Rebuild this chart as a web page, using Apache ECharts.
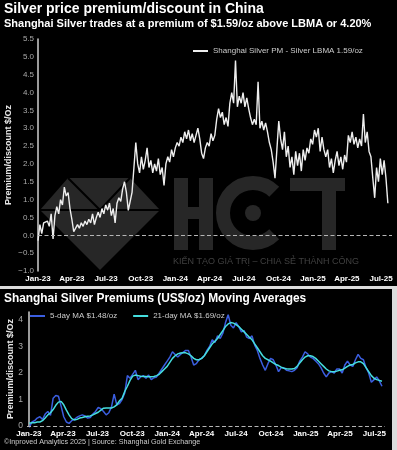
<!DOCTYPE html>
<html>
<head>
<meta charset="utf-8">
<script src="https://cdn.jsdelivr.net/npm/echarts@6/dist/echarts.min.js"></script>
<style>
  html, body { margin: 0; padding: 0; background: #dcdcdc; }
  #top { position: absolute; left: 0; top: 0; width: 397px; height: 286px; background: #000; }
  #bottom { position: absolute; left: 0; top: 289px; width: 392px; height: 161px; background: #000; }
</style>
</head>
<body>
<div id="top"></div>
<div id="bottom"></div>
<script>
// quarter labels on both x axes
const quarterTicks = ['2023-01-01', '2023-04-01', '2023-07-01', '2023-10-01', '2024-01-01', '2024-04-01',
  '2024-07-01', '2024-10-01', '2025-01-01', '2025-04-01', '2025-07-01'];
const MONTHS = ['Jan', 'Feb', 'Mar', 'Apr', 'May', 'Jun', 'Jul', 'Aug', 'Sep', 'Oct', 'Nov', 'Dec'];

// Shanghai PM - LBMA premium, one reading every 5 days from 2023-01-01
const premiumStart = '2023-01-01';
const premiumStepDays = 5;
const premiumValues = [
  -0.15, 0.3, 0.05, 0.35, 0.3, 0.4, 0.25, 0.6, -0.1, 0.55,
  0.8, 0.6, 1.0, 0.85, 1.35, 1.1, 1.2, 0.75, 0.45, 0.1,
  0.05, 0.3, 0.2, 0.35, 0.25, 0.4, 0.3, 0.45, 0.35, 0.6,
  0.3, 0.5, 0.65, 0.5, 0.75, 0.6, 0.85, 0.7, 0.9, 0.55,
  0.75, 0.35, 0.9, 1.05, 0.95, 1.3, 1.5, 1.2, 0.7, 0.65,
  1.2, 1.9, 2.6, 2.0, 1.75, 2.2, 1.85, 2.1, 2.45, 1.9,
  2.1, 1.75, 2.0, 1.8, 2.15, 1.7, 1.9, 1.4, 2.0, 2.2,
  2.05, 2.4, 2.2, 2.45, 2.6, 2.5, 2.75, 2.6, 2.9, 2.7,
  2.95, 2.65, 2.85, 2.6, 2.8, 3.0, 2.7, 2.3, 2.15, 2.45,
  2.6, 2.5, 2.85, 2.65, 2.8, 3.25, 3.55, 3.3, 3.45, 3.1,
  3.3, 3.05, 3.7, 4.0, 3.7, 4.9, 3.6, 3.9, 3.7, 4.0,
  3.6, 3.85, 3.55, 3.3, 3.1, 3.25, 3.1, 4.3, 3.0, 3.2,
  2.95, 3.15, 2.9, 2.6, 2.4, 2.05, 1.6, 2.4, 3.2, 2.7,
  2.4, 2.9, 2.2, 2.5, 1.9, 2.2, 1.7, 2.35, 1.95, 2.3,
  1.8, 2.4, 2.1, 2.45, 2.3, 2.7, 2.55, 2.95, 2.75, 3.0,
  2.35, 2.75, 2.4, 2.2, 2.4, 1.9, 2.15, 1.75, 2.1, 2.35,
  1.95, 2.2, 1.85, 2.25, 2.05, 2.8, 2.6, 2.9, 2.55, 2.75,
  2.45, 2.7, 2.5, 3.4, 2.6, 2.9, 2.35, 2.2, 1.6, 1.05,
  1.9, 1.5, 2.15, 1.7, 2.1, 1.6, 0.9
];

// moving averages, one reading per week from 2023-01-02
const maStart = '2023-01-02';
const maStepDays = 7;
const ma5Values = [
  -0.05, 0.15, 0.2, 0.3, 0.35, 0.25, 0.45, 0.55, 0.4, 1.05,
  1.15, 1.12, 0.75, 0.35, 0.15, 0.1, 0.2, 0.25, 0.33, 0.38,
  0.42, 0.38, 0.3, 0.32, 0.45, 0.55, 0.7, 0.65, 0.55, 0.42,
  0.5, 0.72, 1.2, 0.8, 0.85, 1.0, 1.25, 1.9, 1.8, 1.95,
  2.1, 1.75, 1.85, 1.9, 1.8, 1.92, 1.75, 1.82, 1.85, 2.0,
  2.15, 2.3, 2.45, 2.6, 2.8, 2.7, 2.6, 2.7, 2.78, 2.85,
  2.85, 2.6, 2.3, 2.35, 2.5, 2.55, 2.65, 2.85, 3.0, 3.25,
  3.15, 3.4, 3.3, 3.5, 3.9, 4.2, 3.8, 3.7, 3.9, 3.75,
  3.55, 3.6, 3.35, 3.3, 3.4, 3.05, 2.85, 2.55, 2.3, 2.1,
  2.35, 2.55, 2.5, 2.3, 2.05, 2.2, 2.2, 2.1, 2.08, 2.05,
  2.1, 2.2, 2.45, 2.6, 2.8, 2.72, 2.6, 2.55, 2.45, 2.35,
  2.2, 2.0, 1.85, 2.0, 2.05, 2.0, 2.15, 2.15, 2.0, 2.3,
  2.45, 2.3, 2.25, 2.5, 2.7, 2.55, 2.5, 2.2, 2.0, 1.65,
  1.75, 1.85, 1.7, 1.5
];
const ma21Values = [
  0.1, 0.12, 0.12, 0.15, 0.15, 0.2, 0.3, 0.42, 0.5, 0.62,
  0.78, 0.9, 0.93, 0.8, 0.6, 0.42, 0.28, 0.23, 0.25, 0.3,
  0.32, 0.35, 0.37, 0.38, 0.42, 0.47, 0.52, 0.6, 0.67, 0.68,
  0.68, 0.68, 0.72, 0.8, 0.95, 1.05, 1.3, 1.5, 1.72, 1.88,
  1.92, 1.9, 1.88, 1.87, 1.87, 1.86, 1.86, 1.87, 1.9, 1.95,
  2.05, 2.15, 2.25, 2.4, 2.55, 2.65, 2.72, 2.75, 2.76, 2.76,
  2.72, 2.65, 2.55, 2.5, 2.5, 2.55, 2.65, 2.8, 2.95, 3.1,
  3.2, 3.3, 3.45, 3.6, 3.75, 3.85, 3.9, 3.88, 3.82, 3.75,
  3.65, 3.55, 3.45, 3.35, 3.25, 3.1, 2.95, 2.8, 2.65, 2.55,
  2.5, 2.45, 2.38, 2.32, 2.28, 2.22, 2.18, 2.16, 2.15, 2.15,
  2.17, 2.25, 2.38, 2.5, 2.6, 2.65, 2.65, 2.62, 2.55, 2.45,
  2.35, 2.25, 2.15, 2.08, 2.05, 2.05, 2.07, 2.1, 2.12, 2.18,
  2.25, 2.3, 2.32, 2.38, 2.42, 2.42, 2.35, 2.2, 2.05, 1.9,
  1.8, 1.75, 1.72, 1.69
];

const FONT = '"Liberation Sans", Arial, sans-serif';
const DAY = 86400000;
const AXIS_START = '2023-01-01';

function utc(s) {
  const [y, m, d] = s.split('-').map(Number);
  return Date.UTC(y, m - 1, d);
}

// x positions are day numbers counted from 2023-01-01
function dayNo(s) {
  return Math.round((utc(s) - utc(AXIS_START)) / DAY);
}

function toSeries(start, step, values) {
  const d0 = dayNo(start);
  return values.map((v, i) => [d0 + i * step, v]);
}

function quarterLabel(val) {
  const d = new Date(utc(AXIS_START) + val * DAY);
  return MONTHS[d.getUTCMonth()] + '-' + String(d.getUTCFullYear()).slice(2);
}

const quarterDays = quarterTicks.map(dayNo);

function dayAxis(min, max, labelMargin) {
  return {
    type: 'value',
    min: min,
    max: max,
    axisLine: { show: false, onZero: false },
    axisTick: { show: false },
    splitLine: { show: false },
    axisLabel: {
      customValues: quarterDays,
      formatter: quarterLabel,
      color: '#fff',
      fontSize: 8,
      fontWeight: 'bold',
      fontFamily: FONT,
      margin: labelMargin,
      hideOverlap: false,
      showMinLabel: true,
      showMaxLabel: true
    }
  };
}

const zeroLine = {
  symbol: 'none',
  silent: true,
  label: { show: false },
  lineStyle: { color: '#b5b5b5', type: [4, 2.5], width: 1.2 },
  data: [{ yAxis: 0 }]
};

// faint HCT watermark behind the top chart
const WM = '#272727';
const watermark = [
  { type: 'polygon', z: 1, silent: true, shape: { points: [[68, 178], [130, 178], [160, 210], [100, 270], [40, 210]] }, style: { fill: WM } },
  { type: 'polyline', z: 1, silent: true, shape: { points: [[40, 210], [160, 210]] }, style: { stroke: '#000', lineWidth: 2 } },
  { type: 'polyline', z: 1, silent: true, shape: { points: [[68, 178], [100, 210], [130, 178]] }, style: { stroke: '#000', lineWidth: 2, fill: null } },
  { type: 'rect', z: 1, silent: true, shape: { x: 174, y: 178, width: 14, height: 72 }, style: { fill: WM } },
  { type: 'rect', z: 1, silent: true, shape: { x: 199, y: 178, width: 14, height: 72 }, style: { fill: WM } },
  { type: 'rect', z: 1, silent: true, shape: { x: 174, y: 207, width: 39, height: 12 }, style: { fill: WM } },
  { type: 'arc', z: 1, silent: true, shape: { cx: 253, cy: 213, r: 30, startAngle: Math.PI / 4, endAngle: Math.PI * 7 / 4 }, style: { stroke: WM, lineWidth: 14, fill: null } },
  { type: 'circle', z: 1, silent: true, shape: { cx: 253, cy: 213, r: 8 }, style: { fill: WM } },
  { type: 'rect', z: 1, silent: true, shape: { x: 290, y: 178, width: 55, height: 13 }, style: { fill: WM } },
  { type: 'rect', z: 1, silent: true, shape: { x: 322, y: 178, width: 14, height: 72 }, style: { fill: WM } },
  { type: 'text', z: 1, silent: true, left: 173, top: 257, style: { text: 'KIẾN TẠO GIÁ TRỊ – CHIA SẺ THÀNH CÔNG', fill: '#404040', fontSize: 9, fontFamily: FONT } }
];

const topChart = echarts.init(document.getElementById('top'), null, { renderer: 'canvas' });
topChart.setOption({
  backgroundColor: '#000',
  animation: false,
  textStyle: { fontFamily: FONT },
  title: {
    left: 4,
    top: 2,
    padding: 0,
    itemGap: 2,
    text: 'Silver price premium/discount in China',
    textStyle: { color: '#fff', fontSize: 14, fontWeight: 'bold', fontFamily: FONT },
    subtext: 'Shanghai Silver trades at a premium of $1.59/oz above LBMA or 4.20%',
    subtextStyle: { color: '#fff', fontSize: 11, fontWeight: 'bold', fontFamily: FONT }
  },
  legend: {
    left: 193,
    top: 47,
    padding: 0,
    itemWidth: 15,
    itemHeight: 2,
    textStyle: { color: '#ccc', fontSize: 8, fontFamily: FONT },
    data: [{ name: 'Shanghai Silver PM - Silver LBMA 1.59/oz', icon: 'rect' }]
  },
  grid: { left: 38, right: 5, top: 39, bottom: 15, outerBoundsMode: 'none' },
  xAxis: dayAxis(0, 941, 4),
  yAxis: {
    type: 'value',
    min: -1,
    max: 5.5,
    interval: 0.5,
    name: 'Premium/discount $/Oz',
    nameLocation: 'middle',
    nameMoveOverlap: false,
    nameGap: 25,
    nameTextStyle: { color: '#e6e6e6', fontSize: 9, fontWeight: 'bold', fontFamily: FONT },
    axisLine: { show: true, lineStyle: { color: '#cfcfcf', width: 1.5 } },
    axisTick: { show: false },
    splitLine: { show: false },
    axisLabel: {
      color: '#aaa',
      fontSize: 8,
      margin: 4,
      fontFamily: FONT,
      formatter: (v) => v.toFixed(1).replace('-', '\u2212')
    }
  },
  graphic: watermark,
  series: [{
    name: 'Shanghai Silver PM - Silver LBMA 1.59/oz',
    type: 'line',
    data: toSeries(premiumStart, premiumStepDays, premiumValues),
    showSymbol: false,
    symbol: 'none',
    z: 3,
    lineStyle: { color: '#eeeeee', width: 1.4 },
    itemStyle: { color: '#eeeeee' },
    markLine: zeroLine
  }]
});

const bottomChart = echarts.init(document.getElementById('bottom'), null, { renderer: 'canvas' });
bottomChart.setOption({
  backgroundColor: '#000',
  animation: false,
  textStyle: { fontFamily: FONT },
  title: {
    left: 4,
    top: 4,
    padding: 0,
    text: 'Shanghai Silver Premiums (US$/oz) Moving Averages',
    textStyle: { color: '#fff', fontSize: 11.9, fontWeight: 'bold', fontFamily: FONT }
  },
  legend: {
    left: 30,
    top: 23,
    padding: 0,
    itemWidth: 15,
    itemHeight: 2,
    itemGap: 16,
    textStyle: { color: '#ccc', fontSize: 8, fontFamily: FONT },
    data: [
      { name: '5-day MA $1.48/oz', icon: 'rect' },
      { name: '21-day MA $1.69/oz', icon: 'rect' }
    ]
  },
  grid: { left: 27, right: 7, top: 23, bottom: 24, outerBoundsMode: 'none' },
  xAxis: dayAxis(-5, 940, 4),
  yAxis: {
    type: 'value',
    min: 0,
    max: 4.3,
    interval: 1,
    name: 'Premium/discount $/Oz',
    nameLocation: 'middle',
    nameMoveOverlap: false,
    nameGap: 12,
    nameTextStyle: { color: '#e6e6e6', fontSize: 9, fontWeight: 'bold', fontFamily: FONT },
    axisLine: { show: true, lineStyle: { color: '#cfcfcf', width: 1.5 } },
    axisTick: { show: false },
    splitLine: { show: false },
    axisLabel: { color: '#aaa', fontSize: 8.5, margin: 4, showMaxLabel: false, fontFamily: FONT }
  },
  graphic: [{
    type: 'text',
    left: 4,
    top: 150,
    silent: true,
    style: { text: '©Inproved Analytics 2025 | Source: Shanghai Gold Exchange', fill: '#ccc', fontSize: 7.2, fontFamily: FONT }
  }],
  series: [
    {
      name: '5-day MA $1.48/oz',
      type: 'line',
      data: toSeries(maStart, maStepDays, ma5Values),
      showSymbol: false,
      symbol: 'none',
      clip: false,
      lineStyle: { color: '#3b5ee0', width: 1.5 },
      itemStyle: { color: '#3b5ee0' },
      markLine: zeroLine
    },
    {
      name: '21-day MA $1.69/oz',
      type: 'line',
      data: toSeries(maStart, maStepDays, ma21Values),
      showSymbol: false,
      symbol: 'none',
      clip: false,
      lineStyle: { color: '#45dede', width: 1.5 },
      itemStyle: { color: '#45dede' }
    }
  ]
});
</script>
</body>
</html>
